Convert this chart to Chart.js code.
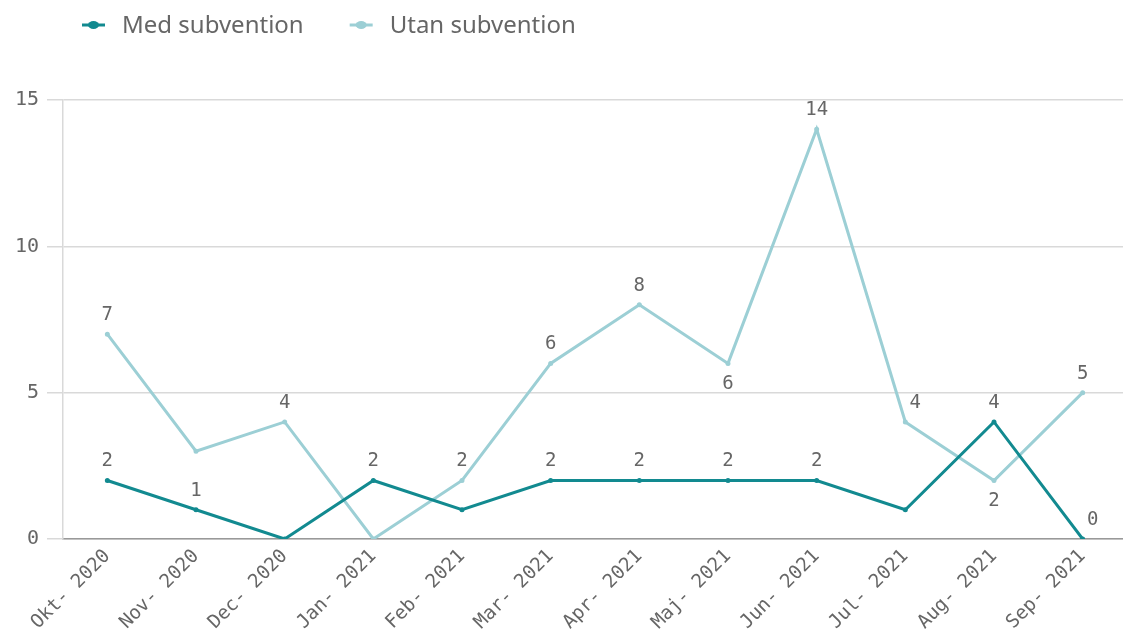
<!DOCTYPE html>
<html>
<head>
<meta charset="utf-8">
<script src="https://cdn.jsdelivr.net/npm/chart.js@4/dist/chart.umd.min.js"></script>
<style>
html,body{margin:0;padding:0;background:#fff;overflow:hidden;width:1123px;height:630px;}
#wrap{position:absolute;left:0;top:0;width:1131px;height:630px;}
canvas{display:block;}
</style>
</head>
<body>
<div id="wrap"><canvas id="c" width="1131" height="630"></canvas></div>
<script>
// ---- data ----
const categories = ['Okt- 2020','Nov- 2020','Dec- 2020','Jan- 2021','Feb- 2021','Mar- 2021','Apr- 2021','Maj- 2021','Jun- 2021','Jul- 2021','Aug- 2021','Sep- 2021'];
const seriesNames = ['Med subvention','Utan subvention'];
const medValues = [2,1,0,2,1,2,2,2,2,1,4,0];
const utanValues = [7,3,4,0,2,6,8,6,14,4,2,5];
const yTicks = [0,5,10,15];
// label placement per point: 'a' above, 'b' below, 'ar' above-right, null hidden
const medLabelPos = ['a','a',null,'a',null,'a','a','a','a',null,'a','ar'];
const utanLabelPos = ['a',null,'a',null,'a','a','a','b','a','ar','b','a'];

const medColor = '#128a90';
const utanColor = '#9ccfd5';
const textColor = '#666666';
const monoFont = "'DejaVu Sans Mono', monospace";

const labelPlugin = {
  id: 'pointLabels',
  afterDatasetsDraw(chart) {
    const ctx = chart.ctx;
    ctx.save();
    ctx.font = '19px ' + monoFont;
    ctx.fillStyle = textColor;
    ctx.textAlign = 'center';
    ctx.textBaseline = 'middle';
    chart.data.datasets.forEach((ds, i) => {
      const meta = chart.getDatasetMeta(i);
      meta.data.forEach((pt, j) => {
        const pos = ds.labelPos[j];
        if (!pos) return;
        let x = pt.x, y = pt.y;
        if (pos === 'a') y -= 19;
        else if (pos === 'b') y += 21;
        else if (pos === 'ar') { y -= 19; x += 10; }
        ctx.fillText(String(ds.data[j]), x, y);
      });
    });
    ctx.restore();
  }
};

const legendPlugin = {
  id: 'customLegend',
  afterDraw(chart) {
    const ctx = chart.ctx;
    ctx.save();
    ctx.font = "24px 'Noto Sans', sans-serif";
    ctx.textBaseline = 'middle';
    ctx.textAlign = 'left';
    let x = 82;
    const y = 25;
    chart.data.datasets.forEach(ds => {
      ctx.strokeStyle = ds.borderColor;
      ctx.fillStyle = ds.borderColor;
      ctx.lineWidth = 3;
      ctx.beginPath();
      ctx.moveTo(x, y); ctx.lineTo(x + 23, y);
      ctx.stroke();
      ctx.beginPath();
      ctx.ellipse(x + 11.5, y, 5.5, 4, 0, 0, Math.PI * 2);
      ctx.fill();
      ctx.fillStyle = textColor;
      ctx.fillText(ds.label, x + 40, y + 1);
      x = x + 40 + ctx.measureText(ds.label).width + 46;
    });
    ctx.restore();
  }
};

new Chart(document.getElementById('c'), {
  type: 'line',
  data: {
    labels: categories,
    datasets: [
      { label: seriesNames[0], data: medValues, labelPos: medLabelPos, borderColor: medColor, backgroundColor: medColor,
        borderWidth: 3, pointRadius: 1, pointHoverRadius: 1, tension: 0, order: 1 },
      { label: seriesNames[1], data: utanValues, labelPos: utanLabelPos, borderColor: utanColor, backgroundColor: utanColor,
        borderWidth: 3, pointRadius: 1, pointHoverRadius: 1, tension: 0, order: 2 }
    ]
  },
  options: {
    responsive: false,
    animation: false,
    layout: { padding: { top: 100, left: 0, right: 0, bottom: 0 } },
    plugins: { legend: { display: false }, tooltip: { enabled: false } },
    scales: {
      x: {
        offset: true,
        grid: { display: false, drawTicks: false },
        border: { display: true, color: '#999999', width: 1.5 },
        ticks: { color: textColor, font: { family: monoFont, size: 19 }, minRotation: 45, maxRotation: 45, autoSkip: false, padding: 6 },
        afterFit(s) { s.height = 91; }
      },
      y: {
        min: 0, max: 15,
        afterBuildTicks(s) { s.ticks = yTicks.map(v => ({ value: v })); },
        grid: { color: '#d9d9d9', lineWidth: 1.5, tickLength: 16, drawTicks: true, tickColor: '#d9d9d9' },
        border: { display: true, color: '#d9d9d9', width: 1.5 },
        ticks: { color: textColor, font: { family: monoFont, size: 20 }, padding: 8 },
        afterFit(s) { s.width = 63; }
      }
    }
  },
  plugins: [labelPlugin, legendPlugin]
});
</script>
</body>
</html>
